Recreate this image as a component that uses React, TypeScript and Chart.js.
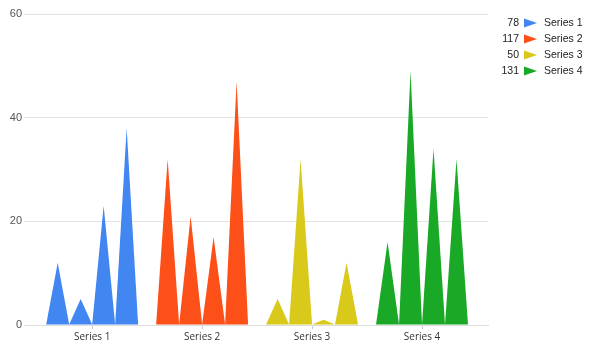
import React, { useEffect, useRef } from "react";
import { Chart, registerables } from "chart.js";

Chart.register(...registerables);

const categories = ["Series 1", "Series 2", "Series 3", "Series 4"];
const colors = ["#4286f2", "#fd4f18", "#d9c91b", "#19a926"];
// four spikes per category
const spike1 = [12, 32, 5, 16];
const spike2 = [5, 21, 32, 49];
const spike3 = [23, 17, 1, 34];
const spike4 = [38, 47, 12, 32];
const spikes = [spike1, spike2, spike3, spike4];
const totals = categories.map((_, i) => spikes.reduce((s, a) => s + a[i], 0));
const yTicks = [0, 20, 40, 60];

const trianglePlugin = {
  id: "triangles",
  afterDatasetsDraw(chart: any) {
    const ctx = chart.ctx;
    ctx.save();
    chart.data.datasets.forEach((_: any, d: number) => {
      const meta = chart.getDatasetMeta(d);
      meta.data.forEach((el: any, i: number) => {
        const { x, y, base, width } = el.getProps(["x", "y", "base", "width"], true);
        ctx.beginPath();
        ctx.moveTo(x - width / 2, base);
        ctx.lineTo(x, y);
        ctx.lineTo(x + width / 2, base);
        ctx.closePath();
        ctx.fillStyle = colors[i];
        ctx.fill();
      });
    });
    ctx.restore();
  },
};

const legendPlugin = {
  id: "sideLegend",
  afterDraw(chart: any) {
    const ctx = chart.ctx;
    ctx.save();
    ctx.font = "10.5px 'Liberation Sans', Arial, sans-serif";
    ctx.textBaseline = "middle";
    categories.forEach((c, i) => {
      const y = 23 + i * 16;
      ctx.fillStyle = "#222";
      ctx.textAlign = "right";
      ctx.fillText(String(totals[i]), 519, y);
      ctx.beginPath();
      ctx.moveTo(524, y - 4.5);
      ctx.lineTo(537, y);
      ctx.lineTo(524, y + 4.5);
      ctx.closePath();
      ctx.fillStyle = colors[i];
      ctx.fill();
      ctx.fillStyle = "#222";
      ctx.textAlign = "left";
      ctx.fillText(c, 544, y);
    });
    ctx.restore();
  },
};

export default function App() {
  const ref = useRef<HTMLCanvasElement>(null);
  useEffect(() => {
    const datasets = spikes.map((arr, k) => ({
      label: "s" + k,
      data: categories.map((_, i) => ({ x: i, y: arr[i] })),
      backgroundColor: "rgba(0,0,0,0)",
      borderWidth: 0,
      categoryPercentage: 0.836,
      barPercentage: 1,
    }));
    const chart = new Chart(ref.current!, {
      type: "bar",
      data: { datasets },
      plugins: [trianglePlugin, legendPlugin],
      options: {
        animation: false,
        responsive: true,
        maintainAspectRatio: false,
        layout: { padding: { left: 0, top: 14, right: 104, bottom: 0 } },
        plugins: { legend: { display: false }, tooltip: { enabled: false } },
        scales: {
          x: {
            type: "linear",
            offset: false,
            min: -0.62,
            max: 3.6,
            afterBuildTicks: (s: any) => {
              s.ticks = categories.map((_, i) => ({ value: i }));
            },
            afterFit: (s: any) => {
              s.height = 26;
            },
            ticks: {
              callback: (v: any) => categories[v] ?? "",
              font: { family: "'Open Sans', sans-serif", size: 10 },
              color: "#333",
              padding: 2,
              maxRotation: 0,
            },
            grid: {
              offset: false,
              drawOnChartArea: false,
              drawTicks: true,
              tickLength: 4,
              color: "#cccccc",
            },
            border: { color: "#dddddd" },
          },
          y: {
            min: 0,
            max: 60,
            afterBuildTicks: (s: any) => {
              s.ticks = yTicks.map((v) => ({ value: v }));
            },
            afterFit: (s: any) => {
              s.width = 24;
            },
            ticks: {
              font: { family: "'Liberation Sans', Arial, sans-serif", size: 11 },
              color: "#555",
              padding: 2,
            },
            grid: { color: "#e3e3e3", drawTicks: false },
            border: { display: false },
          },
        },
      },
    });
    return () => chart.destroy();
  }, []);
  return (
    <div style={{ position: "fixed", left: 0, top: 0, width: 592, height: 351 }}>
      <canvas ref={ref} />
    </div>
  );
}
